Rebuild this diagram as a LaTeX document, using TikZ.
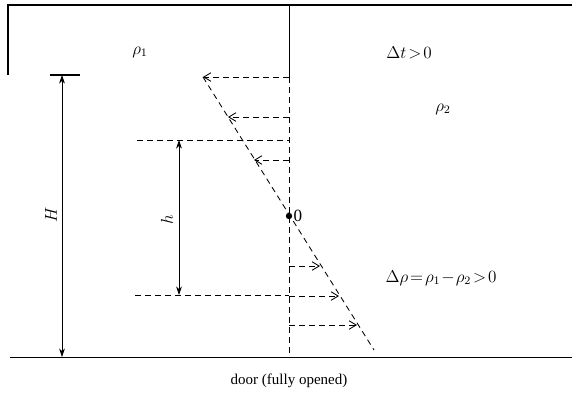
\documentclass[tikz,border=0pt]{standalone}
\usepackage{amsmath}
\usepackage{fontspec}
\setmainfont{Liberation Serif}
\usepackage{tikz}
\usetikzlibrary{arrows.meta}
\tikzset{
  wall/.style={line width=0.7pt},
  dashline/.style={line width=0.6pt, dash pattern=on 4pt off 3pt},
  dimline/.style={line width=0.5pt, {Stealth[length=6pt,width=4pt]}-{Stealth[length=6pt,width=4pt]}},
  flow/.style={dashline, -{Straight Barb[length=5pt,width=6pt]}},
  lbl/.style={font=\large}
}

\begin{document}
\begin{tikzpicture}[x=0.7pt,y=-0.7pt]
    \useasboundingbox (0,0) rectangle (572,394);
    % room walls
    \draw[wall, line width=0.9pt] (8,75) -- (8,5) -- (572,5);
    \draw[wall] (289,5) -- (289,77);
    \draw[wall] (10,357) -- (572,357);
    % door opening
    \coordinate (dtop) at (289,77);
    \coordinate (dbot) at (289,357);
    \draw[dashline] (dtop) -- (dbot);
    % pressure difference line
    \coordinate (slopetop) at (203,77);
    \coordinate (slopebot) at (374,350);
    \draw[dashline] (slopetop) -- (slopebot);
    % neutral plane
    \fill (289,216) circle (3.2);
    \node[lbl, right, inner sep=1pt] (zero) at (292,216) {0};
    % height H
    \coordinate (Htop) at (62,75);
    \coordinate (Hbot) at (62,357);
    \draw[wall, line width=0.9pt] (50,75) -- (80,75);
    \draw[dimline] (Htop) -- (Hbot);
    \node[lbl, rotate=90] (H) at (51,215) {$H$};
    % height h
    \coordinate (htop) at (179,140);
    \coordinate (hbot) at (179,295);
    \draw[dashline] (137,140) -- (289,140);
    \draw[dashline] (135,295) -- (289,295);
    \draw[dimline] (htop) -- (hbot);
    \node[lbl, rotate=90] (h) at (167,220) {$h$};
    % outflow (upper part)
    \coordinate (a1) at (289,77);  \coordinate (b1) at (203,77);
    \coordinate (a2) at (289,117); \coordinate (b2) at (228,117);
    \coordinate (a3) at (289,160); \coordinate (b3) at (254,160);
    \draw[flow] (a1) -- (b1);
    \draw[flow] (a2) -- (b2);
    \draw[flow] (a3) -- (b3);
    % inflow (lower part)
    \coordinate (a4) at (289,266); \coordinate (b4) at (320,266);
    \coordinate (a5) at (289,296); \coordinate (b5) at (339,296);
    \coordinate (a6) at (289,325); \coordinate (b6) at (357,325);
    \draw[flow] (a4) -- (b4);
    \draw[flow] (a5) -- (b5);
    \draw[flow] (a6) -- (b6);
    % Labels
    \node[lbl] (rhoone) at (140,52) {$\rho_1$};
    \node[lbl] (dt) at (409,53) {$\Delta t\!>\!0$};
    \node[lbl] (rhotwo) at (443,109) {$\rho_2$};
    \node[lbl] (drho) at (441,278) {$\Delta\rho\!=\!\rho_1\!-\!\rho_2\!>\!0$};
    \node[font=\fontsize{10.5}{12}\selectfont] (door) at (289,381) {door (fully opened)};
\end{tikzpicture}
\end{document}
